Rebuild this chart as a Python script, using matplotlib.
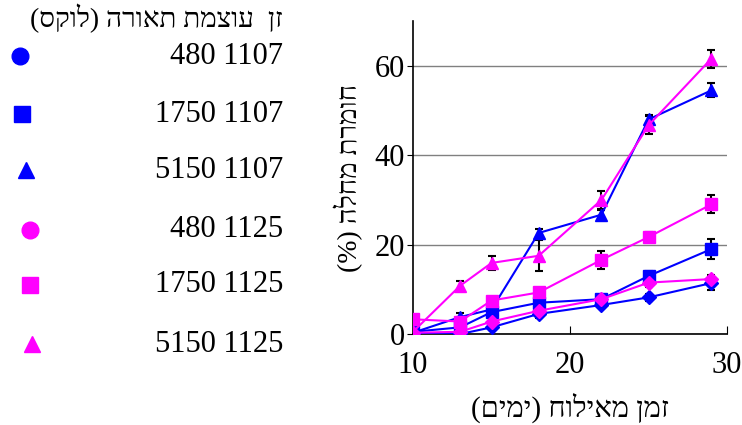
import matplotlib
matplotlib.use("Agg")
import matplotlib.pyplot as plt
from matplotlib.lines import Line2D

plt.rcParams['font.family'] = ['Liberation Serif', 'DejaVu Serif', 'DejaVu Sans']


def heb(s):
    """Hebrew runs: reverse for left-to-right drawing and mirror brackets."""
    swap = {'(': ')', ')': '('}
    return ''.join(swap.get(c, c) for c in reversed(s))


# days after inoculation
days = [10, 13, 15, 18, 22, 25, 29]

# disease severity (%) and error bars, per variety / light intensity
series_names = ['480 1107', '1750 1107', '5150 1107', '480 1125', '1750 1125', '5150 1125']
sev_480_1107 = [0.0, 0.0, 1.5, 4.5, 6.5, 8.2, 11.4]
sev_1750_1107 = [0.5, 1.5, 4.9, 7.0, 7.8, 13.0, 19.0]
sev_5150_1107 = [0.3, 3.8, 5.5, 22.6, 26.7, 48.0, 54.5]
sev_480_1125 = [0.3, 0.5, 2.8, 5.2, 7.8, 11.5, 12.3]
sev_1750_1125 = [3.3, 2.8, 7.5, 9.3, 16.6, 21.7, 29.0]
sev_5150_1125 = [0.5, 10.8, 15.9, 17.5, 30.0, 46.7, 61.6]

err_480_1107 = [0.2, 0.3, 0.5, 0.8, 0.5, 0.8, 1.5]
err_1750_1107 = [0.3, 0.5, 0.8, 1.0, 0.8, 1.0, 2.2]
err_5150_1107 = [0.3, 1.0, 1.0, 1.0, 1.0, 1.0, 1.6]
err_480_1125 = [0.2, 0.5, 0.5, 0.8, 0.5, 1.0, 1.0]
err_1750_1125 = [0.5, 1.0, 0.8, 1.0, 2.0, 1.2, 2.0]
err_5150_1125 = [0.3, 1.0, 1.5, 3.5, 2.0, 2.0, 2.0]

title_text = 'זן  עוצמת תאורה (לוקס)'
xlabel_text = 'זמן מאילוח (ימים)'
ylabel_text = 'חומרת מחלה (%)'

BLUE = '#0000ff'
MAGENTA = '#ff00ff'

fig = plt.figure(figsize=(7.42, 4.25), dpi=100)
ax = fig.add_axes([0.5566, 0.214, 0.4234, 0.7366])

plot_series = [
    (sev_480_1107, err_480_1107, BLUE, 'D'),
    (sev_1750_1107, err_1750_1107, BLUE, 's'),
    (sev_5150_1107, err_5150_1107, BLUE, '^'),
    (sev_480_1125, err_480_1125, MAGENTA, 'D'),
    (sev_1750_1125, err_1750_1125, MAGENTA, 's'),
    (sev_5150_1125, err_5150_1125, MAGENTA, '^'),
]

for vals, errs, col, mk in plot_series:
    ax.errorbar(days, vals, yerr=errs, fmt='none', ecolor='black',
                elinewidth=1.5, capsize=3, capthick=1.5, zorder=2)
for vals, errs, col, mk in plot_series:
    ms = 7 if mk == 'D' else 8.5
    ax.plot(days, vals, color=col, marker=mk, markersize=ms, linewidth=1.5,
            zorder=3)

ax.set_xlim(10, 30)
ax.set_ylim(0, 70)
ax.set_xticks([10, 20, 30])
ax.set_yticks([0, 20, 40, 60])
ax.tick_params(axis='x', direction='in', length=6, labelsize=22, pad=12)
ax.tick_params(axis='y', direction='out', length=4, labelsize=22, pad=2)
ax.yaxis.grid(True, color='#808080', linewidth=1)
ax.set_axisbelow(True)
for side in ['top', 'right']:
    ax.spines[side].set_visible(False)
ax.spines['left'].set_linewidth(1.2)
ax.spines['bottom'].set_linewidth(1.2)

ax.set_xlabel(heb(xlabel_text), fontsize=21, labelpad=9)
ax.set_ylabel(heb(ylabel_text), fontsize=20, labelpad=8)

# legend drawn at left side of the figure
fig.text(283 / 742, 1 - 18 / 425, heb(title_text), fontsize=20,
         ha='right', va='center')
legend_markers = ['o', 's', '^', 'o', 's', '^']
legend_colors = [BLUE] * 3 + [MAGENTA] * 3
row_y = [56, 114, 170, 230, 285, 344]
marker_x = [20, 22, 26, 30, 30, 32]
for name, mk, col, ry, mx in zip(series_names, legend_markers, legend_colors,
                                 row_y, marker_x):
    fig.text(283 / 742, 1 - ry / 425, name, fontsize=22, ha='right',
             va='center')
    size = 12 if mk == 'o' else 11
    fig.add_artist(Line2D([mx / 742], [1 - ry / 425], marker=mk, color=col,
                          markersize=size, linestyle='none',
                          transform=fig.transFigure))

fig.savefig('out.png', dpi=100)
